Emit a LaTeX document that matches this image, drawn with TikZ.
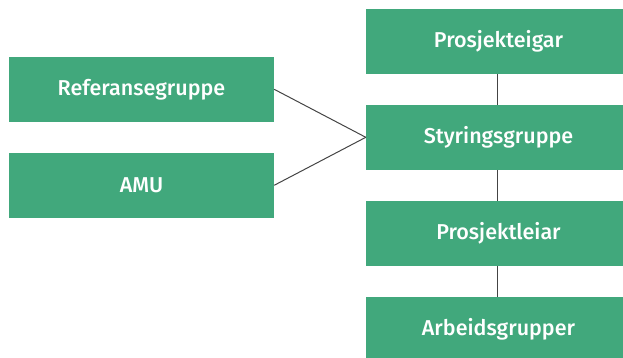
\documentclass[tikz,border=0pt]{standalone}
\usepackage{fontspec}
\setmainfont{Fira Sans}[UprightFont={* Medium}]
\definecolor{boxgreen}{RGB}{65,168,124}
\definecolor{linkgray}{RGB}{68,68,68}
\tikzset{
  orgbox/.style={fill=boxgreen, draw=none, text=white, minimum width=265pt,
    minimum height=64.7pt, inner sep=0pt, font=\fontsize{21.5}{24}\selectfont},
  link/.style={draw=linkgray, line width=1pt}
}
\begin{document}
\begin{tikzpicture}[x=1pt,y=-1pt]
  \useasboundingbox (0,0) rectangle (623,358);
  \clip (0,0) rectangle (623,358);
  % advisory bodies on the left
  \node[orgbox] (ref) at (141.5,89.3) {Referansegruppe};
  \node[orgbox] (amu) at (141.5,185.3) {AMU};
  % project hierarchy on the right
  \node[orgbox] (eig) at (498.5,41.3) {Prosjekteigar};
  \node[orgbox] (sty) at (498.5,137.3) {Styringsgruppe};
  \node[orgbox] (lei) at (498.5,233.3) {Prosjektleiar};
  \node[orgbox] (arb) at (498.5,329.3) {Arbeidsgrupper};
  % connectors
  \draw[link] (ref.east) -- (sty.west);
  \draw[link] (amu.east) -- (sty.west);
  \draw[link] ([xshift=-1pt]eig.south) -- ([xshift=-1pt]sty.north);
  \draw[link] ([xshift=-1pt]sty.south) -- ([xshift=-1pt]lei.north);
  \draw[link] ([xshift=-1pt]lei.south) -- ([xshift=-1pt]arb.north);
\end{tikzpicture}
\end{document}
